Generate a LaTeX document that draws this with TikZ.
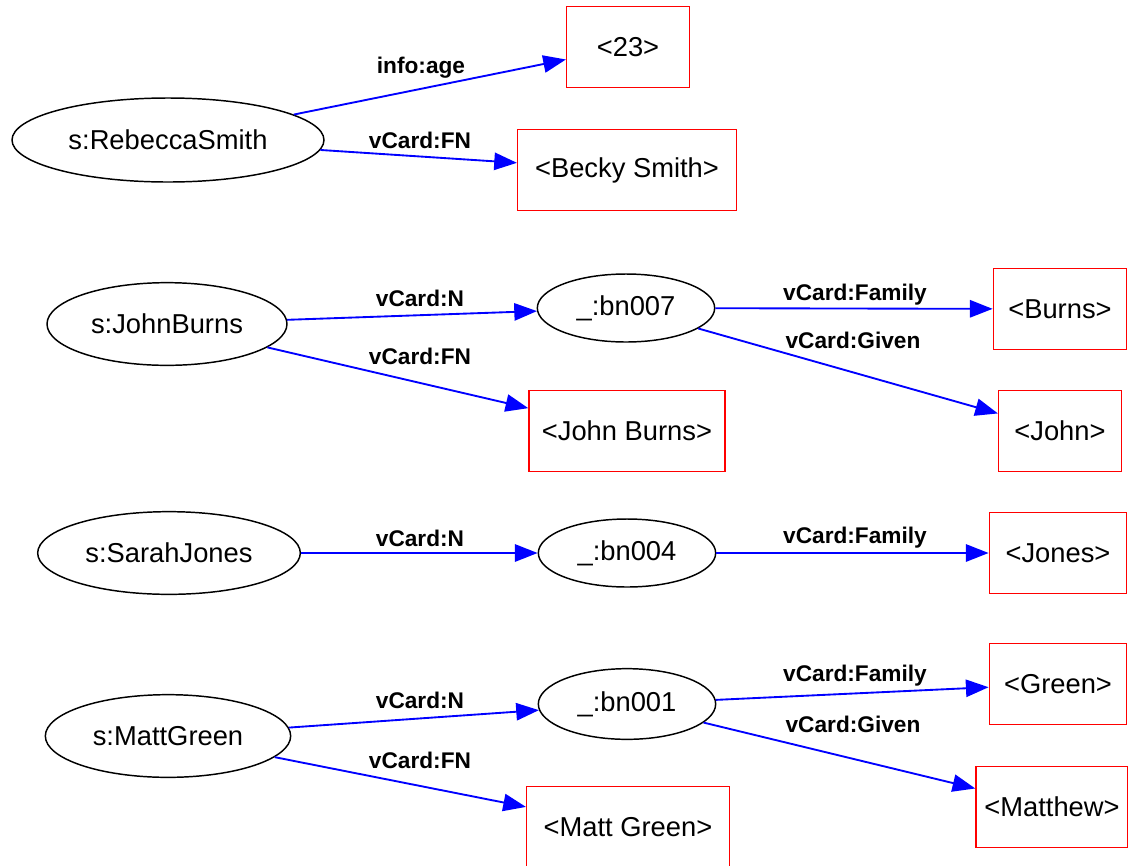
\documentclass[tikz,border=0pt]{standalone}
\usepackage{fontspec}
\setmainfont{Liberation Sans}
\usetikzlibrary{arrows.meta,shapes.geometric}
\tikzset{
  res/.style={draw=black, line width=1.1pt, ellipse, inner sep=0pt, font=\fontsize{20.5}{24}\selectfont},
  lit/.style={draw=red, line width=1.1pt, rectangle, inner sep=0pt, font=\fontsize{20.5}{24}\selectfont},
  lbl/.style={font=\bfseries\fontsize{17}{20}\selectfont, inner sep=0pt},
  arr/.style={draw=blue, line width=1.4pt, -{Triangle[length=17pt,width=13pt]}}
}
\begin{document}
\begin{tikzpicture}[x=0.75pt,y=-0.75pt]
\useasboundingbox (0,0) rectangle (1128,865);
% Rebecca
\node[res, minimum width=234pt, minimum height=63pt] (rs) at (168,140) {s:RebeccaSmith};
\node[lit, minimum width=92pt, minimum height=61pt] (a23) at (628,47) {<23>};
\node[lit, minimum width=164pt, minimum height=61pt] (becky) at (627,170) {<Becky Smith>};
\draw[arr] (rs) -- (a23);
\draw[arr] (rs) -- (becky);
\node[lbl] (l1) at (421,68) {info:age};
\node[lbl] (l2) at (420,140) {vCard:FN};
% John
\node[res, minimum width=180pt, minimum height=62pt] (jb) at (167,324) {s:JohnBurns};
\node[res, minimum width=133pt, minimum height=51pt] (b7) at (626,308) {\_:bn007};
\node[lit, minimum width=100pt, minimum height=61pt] (burns) at (1060,309) {<Burns>};
\node[lit, minimum width=92pt, minimum height=61pt] (john) at (1060,431) {<John>};
\node[lit, minimum width=147pt, minimum height=61pt] (jburns) at (627,431) {<John Burns>};
\draw[arr] (jb) -- (b7);
\draw[arr] (jb) -- (jburns);
\draw[arr] (b7) -- (burns);
\draw[arr] (b7) -- (john);
\node[lbl] (l3) at (420,298) {vCard:N};
\node[lbl] (l4) at (420,356) {vCard:FN};
\node[lbl] (l5) at (855,295) {vCard:Family};
\node[lbl] (l6) at (853,340) {vCard:Given};
% Sarah
\node[res, minimum width=197pt, minimum height=62pt] (sj) at (169,553) {s:SarahJones};
\node[res, minimum width=133pt, minimum height=51pt] (b4) at (627,553) {\_:bn004};
\node[lit, minimum width=103pt, minimum height=61pt] (jones) at (1058,553) {<Jones>};
\draw[arr] (sj) -- (b4);
\draw[arr] (b4) -- (jones);
\node[lbl] (l7) at (420,538) {vCard:N};
\node[lbl] (l8) at (855,538) {vCard:Family};
% Matt
\node[res, minimum width=184pt, minimum height=62pt] (mg) at (168,736) {s:MattGreen};
\node[res, minimum width=133pt, minimum height=53pt] (b1) at (627,704) {\_:bn001};
\node[lit, minimum width=103pt, minimum height=61pt] (green) at (1058,684) {<Green>};
\node[lit, minimum width=114pt, minimum height=61pt] (matthew) at (1052,807) {<Matthew>};
\node[lit, minimum width=152pt, minimum height=61pt] (mgreen) at (628,827) {<Matt Green>};
\draw[arr] (mg) -- (b1);
\draw[arr] (mg) -- (mgreen);
\draw[arr] (b1) -- (green);
\draw[arr] (b1) -- (matthew);
\node[lbl] (l9) at (420,700) {vCard:N};
\node[lbl] (l10) at (420,760) {vCard:FN};
\node[lbl] (l11) at (855,676) {vCard:Family};
\node[lbl] (l12) at (853,724) {vCard:Given};
\end{tikzpicture}
\end{document}
